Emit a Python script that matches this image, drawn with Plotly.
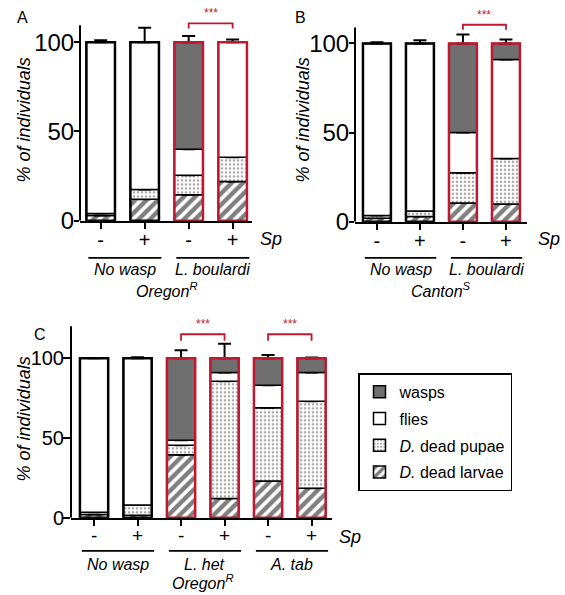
import plotly.graph_objects as go

W, H = 565, 595          # reference picture size (layout coordinates below are in its pixels)
FIG_H = 610              # page height used so that the captured picture lines up vertically
RED = "#c0182f"
GRAY = "#6f6f6f"
FONT = "Liberation Sans, Arial, Helvetica, sans-serif"

sp_ticks = ["-", "+"]

# ---------------- Panel A : Oregon^R ----------------
A_groups = ["No wasp", "L. boulardi"]
A_larvae = [3, 12, 14.5, 22]
A_pupae = [1, 5.5, 11, 13.5]
A_flies = [96, 82.5, 14.5, 64.5]
A_wasps = [0, 0, 60, 0]
A_larvae_err = [0, 8, 1, 3]
A_pupae_err = [1, 4, 2, 1]
A_flies_err = [1, 8, 3, 1.5]
A_wasps_err = [0, 0, 3.5, 0]

# ---------------- Panel B : Canton^S ----------------
B_groups = ["No wasp", "L. boulardi"]
B_larvae = [2, 3, 10.5, 10]
B_pupae = [1.5, 3, 17, 25.5]
B_flies = [96.5, 94, 22.5, 55.5]
B_wasps = [0, 0, 50, 9]
B_larvae_err = [0, 0, 3.5, 3]
B_pupae_err = [0.8, 1.5, 1.5, 4]
B_flies_err = [0.7, 1.8, 4, 6]
B_wasps_err = [0, 0, 5, 2.3]

# ---------------- Panel C : Oregon^R ----------------
C_groups = ["No wasp", "L. het", "A. tab"]
C_larvae = [2, 1.5, 39.5, 12, 23, 18.5]
C_pupae = [1.5, 6.5, 6, 73.5, 46, 54.5]
C_flies = [96.5, 92, 3, 5.5, 14, 18]
C_wasps = [0, 0, 51.5, 9, 17, 9]
C_larvae_err = [1.5, 0.8, 7, 6.5, 2, 2]
C_pupae_err = [1, 2, 1, 7, 3, 3]
C_flies_err = [0, 0.6, 1.5, 7.5, 3, 4]
C_wasps_err = [0, 0, 5, 9, 2, 0.5]

strain_A = "Oregon<sup>R</sup>"
strain_B = "Canton<sup>S</sup>"
strain_C = "Oregon<sup>R</sup>"
sig_label = "***"

seg_names = ["larvae", "pupae", "flies", "wasps"]
seg_legend = {"wasps": "wasps", "flies": "flies",
              "pupae": "<i>D.</i> dead pupae", "larvae": "<i>D.</i> dead larvae"}
seg_rank = {"wasps": 1, "flies": 2, "pupae": 3, "larvae": 4}


def seg_marker(seg):
    line = dict(color="black", width=1.5)
    if seg == "larvae":
        return dict(color="white", line=line,
                    pattern=dict(shape="/", fgcolor="black", bgcolor="white",
                                 size=8, solidity=0.55))
    if seg == "pupae":
        return dict(color="white", line=line,
                    pattern=dict(shape=".", fgcolor="#555555", bgcolor="white",
                                 size=4, solidity=0.35))
    if seg == "flies":
        return dict(color="white", line=line)
    return dict(color=GRAY, line=line)


panels = [
    dict(key="A", ax="", groups=A_groups, strain=strain_A,
         segs={"larvae": A_larvae, "pupae": A_pupae, "flies": A_flies, "wasps": A_wasps},
         errs={"larvae": A_larvae_err, "pupae": A_pupae_err, "flies": A_flies_err, "wasps": A_wasps_err},
         xpx=(80, 252), xrange=(-0.47, 3.44), ybot=220, ytop=6.4, yrange=(0, 120),
         axis_top=109.5, sig_pairs=[(2, 3)], sig_y=110.5, sig_drop=2.8,
         label_xy=(22, 17), ytitle_xy=(24, 120), sp_xy=(258, 238),
         line_y=257, grp_y=269, strain_y=289, tickfont=24, xtickfont=20, ticklen=5,
         xstand=-6),
    dict(key="B", ax="2", groups=B_groups, strain=strain_B,
         segs={"larvae": B_larvae, "pupae": B_pupae, "flies": B_flies, "wasps": B_wasps},
         errs={"larvae": B_larvae_err, "pupae": B_pupae_err, "flies": B_flies_err, "wasps": B_wasps_err},
         xpx=(355, 527), xrange=(-0.51, 3.49), ybot=221, ytop=7.8, yrange=(0, 120),
         axis_top=109, sig_pairs=[(2, 3)], sig_y=110.5, sig_drop=2.8,
         label_xy=(300, 17), ytitle_xy=(303, 120), sp_xy=(536, 238),
         line_y=257, grp_y=269, strain_y=289, tickfont=24, xtickfont=20, ticklen=5,
         xstand=-6),
    dict(key="C", ax="3", groups=C_groups, strain=strain_C,
         segs={"larvae": C_larvae, "pupae": C_pupae, "flies": C_flies, "wasps": C_wasps},
         errs={"larvae": C_larvae_err, "pupae": C_pupae_err, "flies": C_flies_err, "wasps": C_wasps_err},
         xpx=(71, 332), xrange=(-0.53, 5.47), ybot=516, ytop=317.25, yrange=(0, 125),
         axis_top=120, sig_pairs=[(2, 3), (4, 5)], sig_y=115, sig_drop=4,
         label_xy=(40, 333), ytitle_xy=(24, 418), sp_xy=(337, 535),
         line_y=549, grp_y=563, strain_y=580, tickfont=20, xtickfont=19, ticklen=7,
         xstand=-7),
]

fig = go.Figure()
shapes = []
annotations = []


def py(p):
    return 1 - p / H


def px(p):
    return p / W


def ann(**kw):
    d = dict(showarrow=False, xanchor="center", yanchor="middle")
    d.update(kw)
    annotations.append(d)


for pi, P in enumerate(panels):
    xa = "x" + P["ax"]
    ya = "y" + P["ax"]
    n = len(P["segs"]["larvae"])
    pos = list(range(n))
    treated = [i // 2 > 0 for i in pos]
    outline_col = [RED if t else "black" for t in treated]

    base = [0.0] * n
    for seg in seg_names:
        vals = P["segs"][seg]
        errs = P["errs"][seg]
        yv = [v if v > 0 else None for v in vals]
        fig.add_trace(go.Bar(
            x=pos, y=yv, base=list(base), width=0.65,
            xaxis=xa, yaxis=ya, marker=seg_marker(seg),
            name=seg_legend[seg], legendgroup=seg, legendrank=seg_rank[seg],
            showlegend=(pi == 0), hoverinfo="skip",
            error_y=dict(type="data", symmetric=False, array=errs,
                         arrayminus=[0] * n, color="black", thickness=2, width=6.5),
        ))
        base = [b + v for b, v in zip(base, vals)]

    # outline of each whole stacked bar
    fig.add_trace(go.Bar(
        x=pos, y=base, base=[0] * n, width=0.65, xaxis=xa, yaxis=ya,
        marker=dict(color="rgba(0,0,0,0)", line=dict(color=outline_col, width=2.5)),
        showlegend=False, hoverinfo="skip",
    ))

    # significance brackets
    for (a, b) in P["sig_pairs"]:
        fig.add_trace(go.Scatter(
            x=[a, a, b, b],
            y=[P["sig_y"] - P["sig_drop"], P["sig_y"], P["sig_y"], P["sig_y"] - P["sig_drop"]],
            mode="lines", line=dict(color=RED, width=1.8), xaxis=xa, yaxis=ya,
            showlegend=False, hoverinfo="skip"))
        ann(x=(a + b) / 2, y=P["sig_y"], xref=xa, yref=ya, text=sig_label,
            yanchor="bottom", yshift=1, font=dict(color=RED, size=12))

    dom_x = [px(P["xpx"][0]), px(P["xpx"][1])]
    dom_y = [py(P["ybot"]), py(P["ytop"])]
    fig.update_layout(**{
        ("xaxis" + P["ax"]): dict(
            domain=dom_x, range=list(P["xrange"]), anchor=ya,
            tickvals=pos, ticktext=sp_ticks * (n // 2),
            showline=True, linecolor="black", linewidth=2,
            ticks="outside", ticklen=6, tickwidth=2, tickcolor="black",
            ticklabelstandoff=P["xstand"],
            tickfont=dict(size=P["xtickfont"], color="black"),
            showgrid=False, zeroline=False, fixedrange=True),
        ("yaxis" + P["ax"]): dict(
            domain=dom_y, range=list(P["yrange"]), anchor=xa,
            tickvals=[0, 50, 100], showline=False,
            ticks="outside", ticklen=P["ticklen"], tickwidth=2, tickcolor="black",
            ticklabelstandoff=-5,
            tickfont=dict(size=P["tickfont"], color="black"),
            showgrid=False, zeroline=False, fixedrange=True),
    })

    # y axis line up to axis_top
    shapes.append(dict(type="line", xref=xa + " domain", yref=ya, x0=0, x1=0,
                       y0=0, y1=P["axis_top"], line=dict(color="black", width=2)))

    # group lines and labels
    for g, gname in enumerate(P["groups"]):
        x0 = 2 * g - 0.28
        x1 = 2 * g + 1 + 0.38
        shapes.append(dict(type="line", xref=xa, yref="paper", x0=x0, x1=x1,
                           y0=py(P["line_y"]), y1=py(P["line_y"]),
                           line=dict(color="black", width=1.6)))
        ann(x=(x0 + x1) / 2, y=py(P["grp_y"]), xref=xa, yref="paper",
            text="<i>" + gname + "</i>", font=dict(size=16, color="black"))
    ann(x=(n - 1) / 2, y=py(P["strain_y"]), xref=xa, yref="paper",
        text="<i>" + P["strain"] + "</i>", font=dict(size=16, color="black"))
    ann(x=px(P["sp_xy"][0]), y=py(P["sp_xy"][1]), xref="paper", yref="paper",
        xanchor="left", text="<i>Sp</i>", font=dict(size=18, color="black"))
    ann(x=px(P["label_xy"][0]), y=py(P["label_xy"][1]), xref="paper", yref="paper",
        text=P["key"], font=dict(size=16, color="black"))
    ann(x=px(P["ytitle_xy"][0]), y=py(P["ytitle_xy"][1]), xref="paper", yref="paper",
        text="<i>% of individuals</i>", textangle=-90, font=dict(size=18, color="black"))

fig.update_layout(
    width=W, height=FIG_H,
    margin=dict(l=0, r=0, t=0, b=0),
    barmode="overlay",
    plot_bgcolor="white", paper_bgcolor="white",
    font=dict(family=FONT, color="black"),
    shapes=shapes, annotations=annotations,
    showlegend=True,
    legend=dict(x=px(358), y=py(372), xanchor="left", yanchor="top",
                bordercolor="black", borderwidth=1.5, bgcolor="white",
                font=dict(size=16, color="black"), tracegroupgap=3,
                traceorder="grouped", itemwidth=30),
)

fig.write_html("out.html", config={"displayModeBar": False},
               post_script="document.body.style.margin='0px';document.body.style.padding='0px';")
